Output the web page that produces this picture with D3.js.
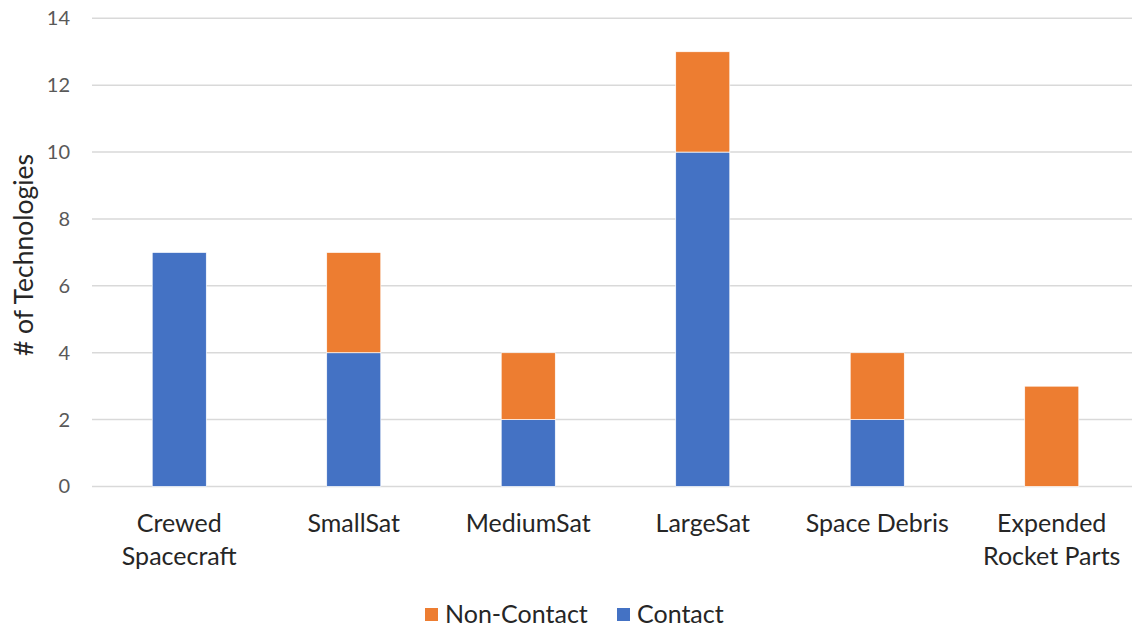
<!DOCTYPE html>
<html>
<head>
<meta charset="utf-8">
<script src="https://cdn.jsdelivr.net/npm/d3@7"></script>
<style>
  body { margin: 0; background: #fff; }
  text { font-family: Lato, "Open Sans", sans-serif; }
</style>
</head>
<body>
<div id="chart"></div>
<script>
// data
var categories = [["Crewed", "Spacecraft"], ["SmallSat"], ["MediumSat"], ["LargeSat"], ["Space Debris"], ["Expended", "Rocket Parts"]]
var contact = [7, 4, 2, 10, 2, 0]
var nonContact = [0, 3, 2, 3, 2, 3]
var yTicks = [0, 2, 4, 6, 8, 10, 12, 14]
var seriesNames = ["Non-Contact", "Contact"]
var colors = {"Contact": "#4472C4", "Non-Contact": "#ED7D31"}

var width = 1132, height = 628

var svg = d3.select("#chart").append("svg")
    .attr("width", width)
    .attr("height", height)

var keys = categories.map(c => c.join(" "))

var rows = keys.map((k, i) => ({cat: k, "Contact": contact[i], "Non-Contact": nonContact[i]}))
var stack = d3.stack().keys(["Contact", "Non-Contact"])(rows)

var xScale = d3.scaleBand()
    .domain(keys)
    .range([92, 1139])
    .paddingInner(0.69)
    .paddingOuter(0.345)

var yScale = d3.scaleLinear()
    .domain([0, 14])
    .range([486.5, 18.3])

// gridlines
svg.append("g")
    .selectAll("line")
    .data(yTicks)
    .enter()
    .append("line")
    .attr("x1", 92)
    .attr("x2", width)
    .attr("y1", d => yScale(d))
    .attr("y2", d => yScale(d))
    .attr("stroke", "#d9d9d9")
    .attr("stroke-width", 1.5)

// y axis labels
var yAxis = d3.axisLeft(yScale).tickValues(yTicks).tickSize(0).tickPadding(0)
var yAxisGroup = svg.append("g")
    .attr("transform", "translate(70,0)")
    .call(yAxis)
yAxisGroup.select(".domain").remove()
yAxisGroup.selectAll("text")
    .attr("font-size", 20)
    .attr("fill", "#595959")
    .attr("font-family", "Lato, sans-serif")

// bars
svg.append("g")
    .selectAll("g")
    .data(stack)
    .enter()
    .append("g")
    .attr("fill", d => colors[d.key])
    .selectAll("rect")
    .data(d => d)
    .enter()
    .append("rect")
    .filter(d => d[1] > d[0])
    .attr("x", d => xScale(d.data.cat))
    .attr("width", xScale.bandwidth())
    .attr("y", d => yScale(d[1]))
    .attr("height", d => yScale(d[0]) - yScale(d[1]))
    .attr("stroke", "#fff")
    .attr("stroke-width", 0.7)

// category labels
var catGroup = svg.append("g")
categories.forEach((lines, i) => {
    var t = catGroup.append("text")
        .attr("x", xScale(keys[i]) + xScale.bandwidth() / 2)
        .attr("y", 532)
        .attr("text-anchor", "middle")
        .attr("font-size", 25)
        .attr("fill", "#262626")
    lines.forEach((l, j) => {
        t.append("tspan")
            .attr("x", xScale(keys[i]) + xScale.bandwidth() / 2)
            .attr("dy", j == 0 ? 0 : 33)
            .text(l)
    })
})

// y axis title
svg.append("text")
    .attr("transform", "translate(33,255) rotate(-90)")
    .attr("text-anchor", "middle")
    .attr("font-size", 26.5)
    .attr("fill", "#262626")
    .text("# of Technologies")

// legend
var legendX = [425, 617]
var legend = svg.append("g")
    .selectAll("g")
    .data(seriesNames)
    .enter()
    .append("g")
    .attr("transform", (d, i) => `translate(${legendX[i]},614)`)
legend.append("rect")
    .attr("x", 0)
    .attr("y", -6)
    .attr("width", 13)
    .attr("height", 13)
    .attr("fill", d => colors[d])
legend.append("text")
    .attr("x", 20)
    .attr("y", 9)
    .attr("font-size", 25)
    .attr("fill", "#262626")
    .text(d => d)
</script>
</body>
</html>
